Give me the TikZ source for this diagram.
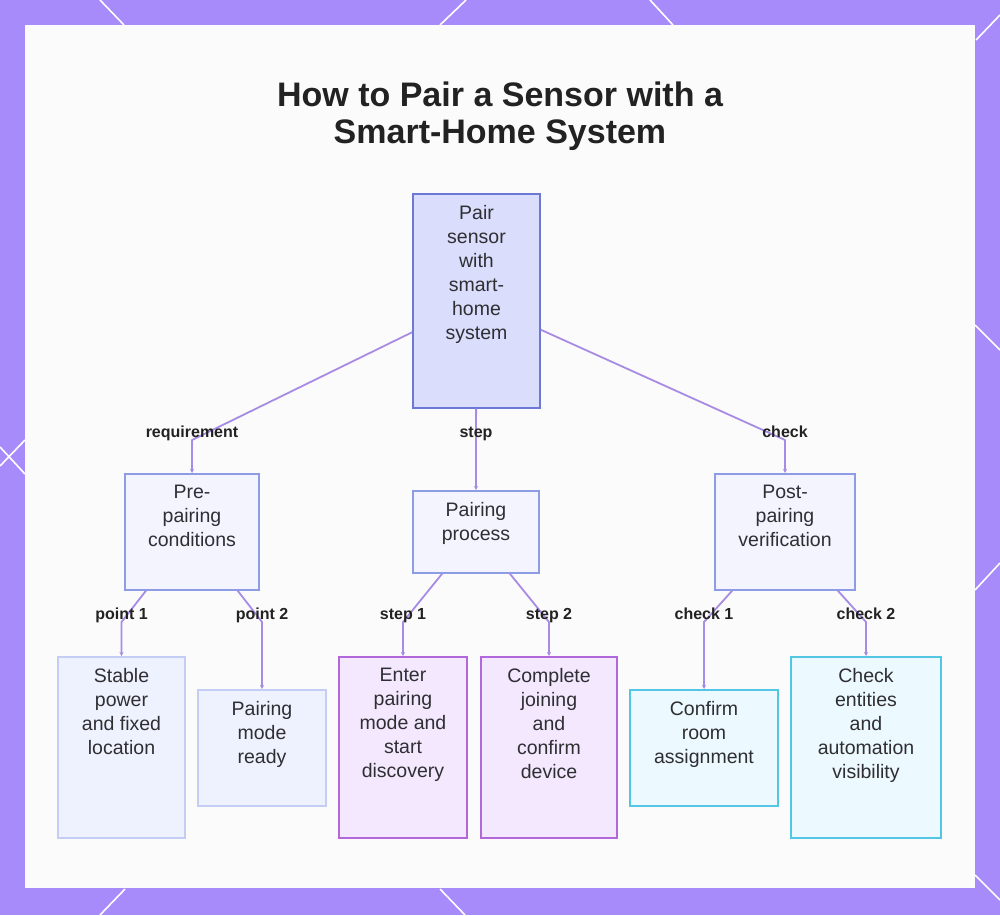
\documentclass[tikz,border=0pt]{standalone}
\usepackage{fontspec}
\setmainfont{Liberation Sans}
\usetikzlibrary{arrows.meta,positioning,calc}
\definecolor{frameV}{HTML}{A78BFA}
\definecolor{panelW}{HTML}{FBFBFC}
\definecolor{linkV}{HTML}{A88BE3}
\definecolor{inkdk}{HTML}{222222}
\definecolor{inkmd}{HTML}{2F2F33}
\definecolor{rootF}{HTML}{DADDFB}
\definecolor{rootD}{HTML}{6C78D6}
\definecolor{midF}{HTML}{F3F4FE}
\definecolor{midD}{HTML}{8C9DE6}
\definecolor{leafbF}{HTML}{EEF2FE}
\definecolor{leafbD}{HTML}{C4CEF4}
\definecolor{leafpF}{HTML}{F3E8FE}
\definecolor{leafpD}{HTML}{B267DA}
\definecolor{leafcF}{HTML}{ECF9FE}
\definecolor{leafcD}{HTML}{52C6E2}
\tikzset{
  boxroot/.style  = {rectangle, draw=rootD, fill=rootF, line width=1.6pt, inner sep=0pt},
  boxmid/.style   = {boxroot, draw=midD, fill=midF},
  boxleafb/.style = {boxroot, draw=leafbD, fill=leafbF},
  boxleafp/.style = {boxroot, draw=leafpD, fill=leafpF},
  boxleafc/.style = {boxroot, draw=leafcD, fill=leafcF},
  txt/.style      = {font=\fontsize{19.5}{24}\selectfont, text=inkmd,
                     align=center, inner sep=0pt},
  link/.style     = {draw=linkV, line width=1.8pt, line join=round,
                     -{Stealth[length=4pt,width=4pt]}},
  elab/.style     = {font=\fontsize{16}{18}\selectfont\bfseries, text=inkdk,
                     inner sep=1pt, anchor=base},
  deco/.style     = {draw=white, line width=1.6pt},
}
\newcommand{\tbox}[7]{%       % #1 = style, #2 = name, #3 = x, #4 = top, #5 = width, #6 = height, #7 = text
  \node[#1, anchor=north, minimum width=#5pt, minimum height=#6pt] (#2) at (#3,#4) {};
  \node[txt, anchor=north] (#2txt) at ([yshift=-12pt]#2.north) {#7};}

\begin{document}
\begin{tikzpicture}[x=1pt,y=-1pt]
  \useasboundingbox (0,0) rectangle (1000,915);
  % frame and panel
  \fill[frameV] (0,0) rectangle (1000,915);
  \draw[deco] (100,0) -- (124,25);
  \draw[deco] (466,0) -- (440,25);
  \draw[deco] (650,0) -- (673,25);
  \draw[deco] (1000,15) -- (976,40);
  \draw[deco] (25,440) -- (0,466);
  \draw[deco] (0,447) -- (25,474);
  \draw[deco] (975,325) -- (1000,350);
  \draw[deco] (975,590) -- (1000,563);
  \draw[deco] (125,889) -- (100,915);
  \draw[deco] (440,889) -- (465,915);
  \draw[deco] (975,875) -- (1000,900);
  \fill[panelW] (25,25) rectangle (975,888);

  \node[font=\fontsize{34}{37}\selectfont\bfseries, text=inkdk, align=center,
        inner sep=0pt, anchor=north] (title) at (500,82)
        {How to Pair a Sensor with a\\Smart-Home System};

  % boxes
  \tbox{boxroot}{root}{476.5}{193}{127}{214}{Pair\\sensor\\with\\smart-\\home\\system}
  \tbox{boxmid}{pre}{192}{473}{134}{116}{Pre-\\pairing\\conditions}
  \tbox{boxmid}{proc}{476}{490}{126}{82}{Pairing\\process}
  \tbox{boxmid}{post}{785}{473}{140}{116}{Post-\\pairing\\verification}
  \tbox{boxleafb}{stable}{121.5}{656}{127}{181}{Stable\\power\\and fixed\\location}
  \tbox{boxleafb}{ready}{262}{689}{128}{116}{Pairing\\mode\\ready}
  \tbox{boxleafp}{enter}{403}{656}{128}{181}{Enter\\pairing\\mode and\\start\\discovery}
  \tbox{boxleafp}{join}{549}{656}{136}{181}{Complete\\joining\\and\\confirm\\device}
  \tbox{boxleafc}{room}{704}{689}{148}{116}{Confirm\\room\\assignment}
  \tbox{boxleafc}{vis}{866}{656}{150}{181}{Check\\entities\\and\\automation\\visibility}

  % bend points
  \coordinate (bReq)   at (192,440);
  \coordinate (bStep)  at (476,440);
  \coordinate (bCheck) at (785,440);
  \coordinate (bPt1)   at (121.5,622);
  \coordinate (bPt2)   at (262,622);
  \coordinate (bSt1)   at (403,622);
  \coordinate (bSt2)   at (549,622);
  \coordinate (bCk1)   at (704,622);
  \coordinate (bCk2)   at (866,622);

  % connectors
  \draw[link] (root) -- (bReq) -- (pre.north);
  \draw[link] (root) -- (bStep) -- (proc.north);
  \draw[link] (root) -- (bCheck) -- (post.north);
  \draw[link] (pre) -- (bPt1) -- (stable.north);
  \draw[link] (pre) -- (bPt2) -- (ready.north);
  \draw[link] (proc) -- (bSt1) -- (enter.north);
  \draw[link] (proc) -- (bSt2) -- (join.north);
  \draw[link] (post) -- (bCk1) -- (room.north);
  \draw[link] (post) -- (bCk2) -- (vis.north);

  % connector labels
  \node[elab] (lReq)   at ([yshift=3pt]bReq)   {requirement};
  \node[elab] (lStep)  at ([yshift=3pt]bStep)  {step};
  \node[elab] (lCheck) at ([yshift=3pt]bCheck) {check};
  \node[elab] (lPt1)   at ([yshift=3pt]bPt1)   {point 1};
  \node[elab] (lPt2)   at ([yshift=3pt]bPt2)   {point 2};
  \node[elab] (lSt1)   at ([yshift=3pt]bSt1)   {step 1};
  \node[elab] (lSt2)   at ([yshift=3pt]bSt2)   {step 2};
  \node[elab] (lCk1)   at ([yshift=3pt]bCk1)   {check 1};
  \node[elab] (lCk2)   at ([yshift=3pt]bCk2)   {check 2};
\end{tikzpicture}
\end{document}
